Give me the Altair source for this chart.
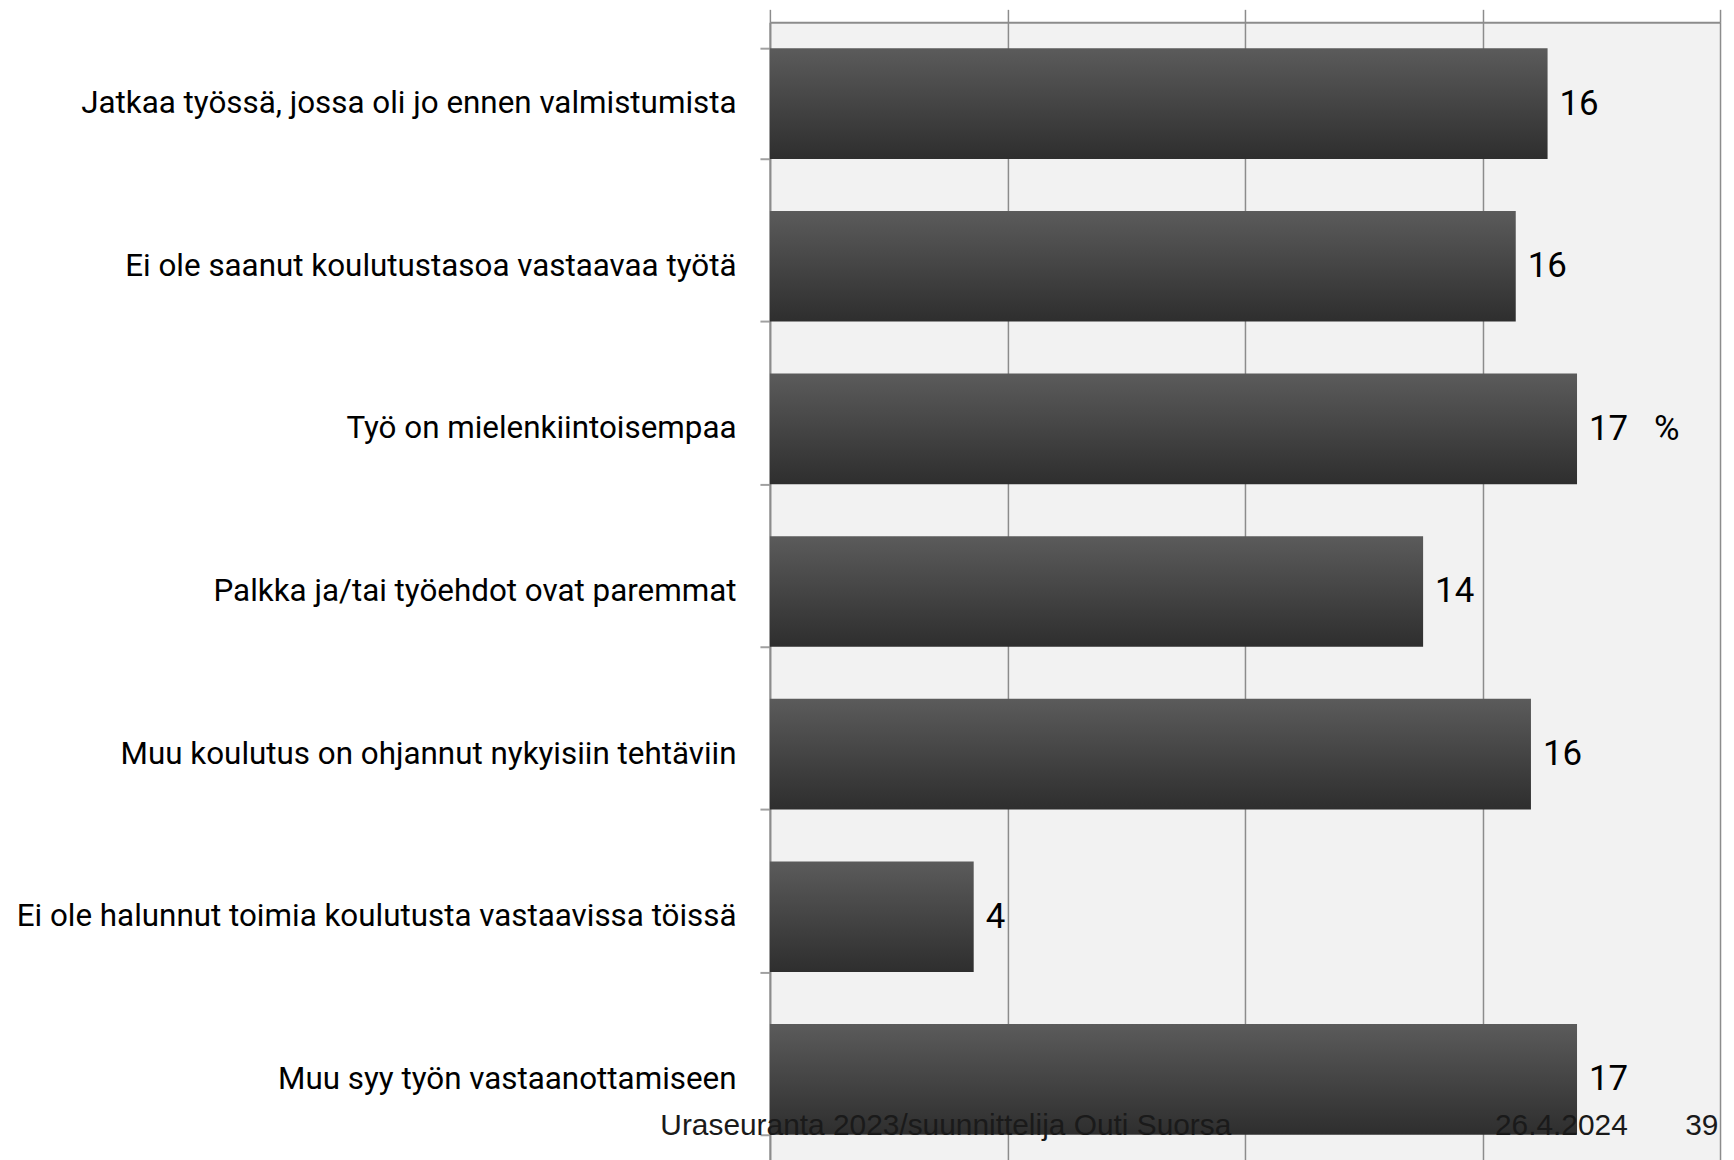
import altair as alt
import pandas as pd

categories = [
    "Jatkaa työssä, jossa oli jo ennen valmistumista",
    "Ei ole saanut koulutustasoa vastaavaa työtä",
    "Työ on mielenkiintoisempaa",
    "Palkka ja/tai työehdot ovat paremmat",
    "Muu koulutus on ohjannut nykyisiin tehtäviin",
    "Ei ole halunnut toimia koulutusta vastaavissa töissä",
    "Muu syy työn vastaanottamiseen",
]
values = [16.37, 15.70, 16.99, 13.75, 16.02, 4.29, 16.99]
value_labels = ["16", "16", "17\u00a0\u00a0\u00a0%", "14", "16", "4", "17"]
x_ticks = [0, 5, 10, 15, 20]

footer_left = "Uraseuranta 2023/suunnittelija Outi Suorsa"
footer_date = "26.4.2024"
footer_page = "39"

df = pd.DataFrame({"cat": categories, "val": values, "lab": value_labels})

NARROW = "Roboto, sans-serif"
REG = "Liberation Sans, Arial, sans-serif"

y_enc = alt.Y(
    "cat:N",
    sort=None,
    scale=alt.Scale(paddingInner=0.32, paddingOuter=0.16),
    axis=alt.Axis(
        title=None,
        tickBand="extent",
        tickSize=10,
        tickColor="#a0a0a0",
        tickWidth=2,
        domainColor="#8c8c8c",
        domainWidth=2,
        labelFont=NARROW,
        labelFontSize=31.5,
        labelColor="#000000",
        labelPadding=24,
        labelLimit=1000,
        grid=False,
    ),
)
x_enc = alt.X(
    "val:Q",
    scale=alt.Scale(domain=[0, 20], nice=False),
    axis=alt.Axis(
        orient="top",
        title=None,
        labels=False,
        values=x_ticks,
        tickSize=13,
        tickColor="#8c8c8c",
        tickWidth=1.5,
        domainColor="#8c8c8c",
        domainWidth=2,
        grid=True,
        gridColor="#8c8c8c",
        gridWidth=1.5,
    ),
)

grad = alt.Gradient(
    gradient="linear",
    stops=[
        alt.GradientStop(color="#5b5b5b", offset=0),
        alt.GradientStop(color="#2e2e2e", offset=1),
    ],
    x1=0, x2=0, y1=0, y2=1,
)

base = alt.Chart(df)
bars = base.mark_bar(color=grad).encode(x=x_enc, y=y_enc)
texts = base.mark_text(
    align="left", baseline="middle", dx=12, font=NARROW, fontSize=35, color="#000000"
).encode(x="val:Q", y=alt.Y("cat:N", sort=None), text="lab:N")

f1 = alt.Chart(pd.DataFrame({"t": [footer_left]})).mark_text(
    align="left", baseline="alphabetic", font=REG, fontSize=30, color="#1a1a1a"
).encode(x=alt.value(-110), y=alt.value(1117), text="t:N")
f2 = alt.Chart(pd.DataFrame({"t": [footer_date]})).mark_text(
    align="left", baseline="alphabetic", font=REG, fontSize=30, color="#1a1a1a"
).encode(x=alt.value(1501 - 773), y=alt.value(1117), text="t:N")
f3 = alt.Chart(pd.DataFrame({"t": [footer_page]})).mark_text(
    align="left", baseline="alphabetic", font=REG, fontSize=30, color="#1a1a1a"
).encode(x=alt.value(1692 - 773), y=alt.value(1117), text="t:N")

chart = (
    alt.layer(bars, texts, f1, f2, f3)
    .properties(
        width=954,
        height=1143,
        autosize=alt.AutoSizeParams(type="none"),
        padding={"left": 765, "top": 12, "right": 6, "bottom": 0},
        background="#ffffff",
    )
    .configure_view(fill="#f2f2f2", strokeWidth=0)
)

chart.save("out.html", embed_options={"renderer": "svg", "actions": False})
